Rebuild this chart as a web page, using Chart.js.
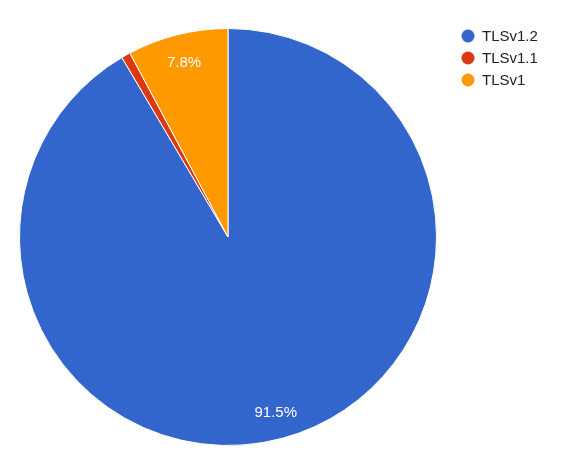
<!DOCTYPE html>
<html>
<head>
<meta charset="utf-8">
<script src="https://cdn.jsdelivr.net/npm/chart.js@4"></script>
<style>
    html, body { margin: 0; padding: 0; background: #fff; }
    #wrap { width: 563px; height: 473px; position: relative; }
</style>
</head>
<body>
<div id="wrap"><canvas id="pieChart"></canvas></div>
<script>
// Sample data
const categories = ['TLSv1.2', 'TLSv1.1', 'TLSv1'];
const shares = [91.5, 0.7, 7.8];
const colors = ['#3366cc', '#dc3912', '#ff9900'];

// Percentage labels inside slices, Google-style
const sliceLabels = {
    id: 'sliceLabels',
    afterDatasetsDraw(chart) {
        const ctx = chart.ctx;
        const meta = chart.getDatasetMeta(0);
        const total = shares.reduce((a, b) => a + b, 0);
        ctx.save();
        ctx.font = '15px Arial, "Liberation Sans", sans-serif';
        ctx.fillStyle = '#ffffff';
        ctx.textAlign = 'center';
        ctx.textBaseline = 'middle';
        meta.data.forEach((arc, i) => {
            const pct = shares[i] / total * 100;
            if (pct < 2) return;
            const mid = (arc.startAngle + arc.endAngle) / 2;
            const r = arc.outerRadius * 0.868;
            ctx.fillText(pct.toFixed(1) + '%', arc.x + Math.cos(mid) * r, arc.y + Math.sin(mid) * r + 1);
        });
        ctx.restore();
    }
};

// Legend on the right
const sideLegend = {
    id: 'sideLegend',
    afterDraw(chart) {
        const ctx = chart.ctx;
        ctx.save();
        ctx.font = '15px Arial, "Liberation Sans", sans-serif';
        ctx.textBaseline = 'middle';
        categories.forEach((name, i) => {
            const y = 36 + i * 22;
            ctx.beginPath();
            ctx.fillStyle = colors[i];
            ctx.arc(468, y, 6.5, 0, Math.PI * 2);
            ctx.fill();
            ctx.fillStyle = '#222222';
            ctx.fillText(name, 482, y + 1);
        });
        ctx.restore();
    }
};

new Chart(document.getElementById('pieChart').getContext('2d'), {
    type: 'pie',
    data: {
        labels: categories,
        datasets: [{
            data: shares,
            backgroundColor: colors,
            borderColor: '#ffffff',
            borderWidth: 1
        }]
    },
    options: {
        responsive: true,
        maintainAspectRatio: false,
        animation: false,
        layout: {
            padding: { left: 19, top: 28, right: 126, bottom: 27 }
        },
        plugins: {
            legend: { display: false },
            tooltip: { enabled: false }
        }
    },
    plugins: [sliceLabels, sideLegend]
});
</script>
</body>
</html>
